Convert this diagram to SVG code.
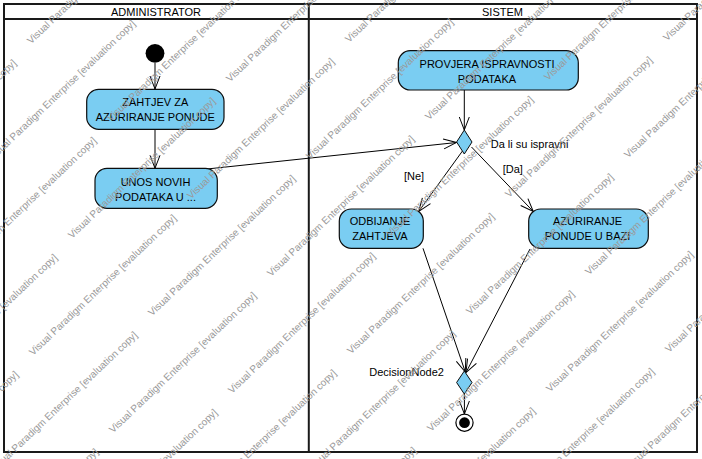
<svg xmlns="http://www.w3.org/2000/svg" width="702" height="459" viewBox="0 0 702 459">
<style>
text{font-family:"Liberation Sans",Arial,sans-serif;fill:#000}
.lane{fill:none;stroke:#1a1a1a;stroke-width:2}
.hdr{font-size:11px;text-anchor:middle}
.act{fill:#7acdf2;stroke:#0d0d0d;stroke-width:1.2}
.t{font-size:11px;text-anchor:middle}
.lab{font-size:11px}
.con{fill:none;stroke:#000;stroke-width:1;marker-end:url(#arr)}
.dec{fill:#7acdf2;stroke:#0d0d0d;stroke-width:1}
.wm text{font-size:10px;fill:#9a9a9a}
</style>
<defs>
<marker id="arr" markerWidth="16" markerHeight="12" refX="14" refY="6" orient="auto" markerUnits="userSpaceOnUse" viewBox="0 0 16 12">
<path d="M1,1 L14,6 L1,11" fill="none" stroke="#000" stroke-width="1"/>
</marker>
</defs>
<rect width="702" height="459" fill="#fff"/>
<g id="lanes">
<rect class="lane" x="4" y="4" width="693" height="448"/>
<line class="lane" x1="4" y1="19" x2="697" y2="19"/>
<line class="lane" x1="308.8" y1="4" x2="308.8" y2="452"/>
<text class="hdr" x="156" y="16">ADMINISTRATOR</text>
<text class="hdr" x="502.5" y="16">SISTEM</text>
</g>
<g id="connectors">
<line class="con" x1="155" y1="63" x2="155" y2="89"/>
<line class="con" x1="155" y1="129.3" x2="155" y2="168.3"/>
<line class="con" x1="207" y1="169" x2="456.5" y2="142.5"/>
<line class="con" x1="464.3" y1="90" x2="464.3" y2="130"/>
<line class="con" x1="462.7" y1="150.7" x2="418.8" y2="211.3"/>
<line class="con" x1="471.5" y1="147" x2="533.3" y2="211.5"/>
<line class="con" x1="423" y1="248.3" x2="465.3" y2="372"/>
<line class="con" x1="530" y1="249" x2="466" y2="372.5"/>
<line class="con" x1="464.4" y1="394" x2="464.4" y2="414"/>
<text class="lab" x="404" y="180">[Ne]</text>
<text class="lab" x="502.7" y="172.5">[Da]</text>
</g>
<g id="start"><circle cx="155" cy="53.3" r="9.4" fill="#000"/></g>
<g id="zahtjev">
<rect class="act" x="86.7" y="89.3" width="137.3" height="40" rx="12"/>
<text class="t" x="155.3" y="106">ZAHTJEV ZA</text>
<text class="t" x="155.3" y="121">AZURIRANJE PONUDE</text>
</g>
<g id="unos">
<rect class="act" x="95" y="168.3" width="122.3" height="40" rx="12"/>
<text class="t" x="155.5" y="186">UNOS NOVIH</text>
<text class="t" x="155.5" y="201">PODATAKA U ...</text>
</g>
<g id="provjera">
<rect class="act" x="398.3" y="50.7" width="180" height="39.3" rx="12"/>
<text class="t" x="487" y="67.5">PROVJERA ISPRAVNOSTI</text>
<text class="t" x="487" y="82.5">PODATAKA</text>
</g>
<g id="decision1">
<polygon class="dec" points="464.3,130 472,142 464.3,154 456.6,142"/>
<text class="lab" x="490.7" y="148">Da li su ispravni</text>
</g>
<g id="odbijanje">
<rect class="act" x="339.3" y="209" width="84" height="39.3" rx="12"/>
<text class="t" x="380" y="225">ODBIJANJE</text>
<text class="t" x="380" y="240">ZAHTJEVA</text>
</g>
<g id="azuriranje">
<rect class="act" x="528.7" y="209" width="119.6" height="39.3" rx="12"/>
<text class="t" x="587.5" y="225">AZURIRANJE</text>
<text class="t" x="587.5" y="240">PONUDE U BAZI</text>
</g>
<g id="decision2">
<polygon class="dec" points="464.3,371 472,382.5 464.3,394 456.6,382.5"/>
<text class="lab" x="369.3" y="375.7">DecisionNode2</text>
</g>
<g id="final">
<circle cx="464.5" cy="422.7" r="8.6" fill="#fff" stroke="#000" stroke-width="1.2"/>
<circle cx="464.5" cy="422.7" r="5.4" fill="#000"/>
</g>
<g class="wm" id="watermark">
<text transform="translate(-86 395.5) rotate(-43.6)">Visual Paradigm Enterprise [evaluation copy]</text>
<text transform="translate(33 356) rotate(-43.6)">Visual Paradigm Enterprise [evaluation copy]</text>
<text transform="translate(152 316.5) rotate(-43.6)">Visual Paradigm Enterprise [evaluation copy]</text>
<text transform="translate(271 277) rotate(-43.6)">Visual Paradigm Enterprise [evaluation copy]</text>
<text transform="translate(390 237.5) rotate(-43.6)">Visual Paradigm Enterprise [evaluation copy]</text>
<text transform="translate(509 198) rotate(-43.6)">Visual Paradigm Enterprise [evaluation copy]</text>
<text transform="translate(628 158.5) rotate(-43.6)">Visual Paradigm Enterprise [evaluation copy]</text>
<text transform="translate(-125 512.5) rotate(-43.6)">Visual Paradigm Enterprise [evaluation copy]</text>
<text transform="translate(-6 473) rotate(-43.6)">Visual Paradigm Enterprise [evaluation copy]</text>
<text transform="translate(113 433.5) rotate(-43.6)">Visual Paradigm Enterprise [evaluation copy]</text>
<text transform="translate(232 394) rotate(-43.6)">Visual Paradigm Enterprise [evaluation copy]</text>
<text transform="translate(351 354.5) rotate(-43.6)">Visual Paradigm Enterprise [evaluation copy]</text>
<text transform="translate(470 315) rotate(-43.6)">Visual Paradigm Enterprise [evaluation copy]</text>
<text transform="translate(589 275.5) rotate(-43.6)">Visual Paradigm Enterprise [evaluation copy]</text>
<text transform="translate(-45 590) rotate(-43.6)">Visual Paradigm Enterprise [evaluation copy]</text>
<text transform="translate(74 550.5) rotate(-43.6)">Visual Paradigm Enterprise [evaluation copy]</text>
<text transform="translate(193 511) rotate(-43.6)">Visual Paradigm Enterprise [evaluation copy]</text>
<text transform="translate(312 471.5) rotate(-43.6)">Visual Paradigm Enterprise [evaluation copy]</text>
<text transform="translate(431 432) rotate(-43.6)">Visual Paradigm Enterprise [evaluation copy]</text>
<text transform="translate(550 392.5) rotate(-43.6)">Visual Paradigm Enterprise [evaluation copy]</text>
<text transform="translate(669 353) rotate(-43.6)">Visual Paradigm Enterprise [evaluation copy]</text>
<text transform="translate(273 588.5) rotate(-43.6)">Visual Paradigm Enterprise [evaluation copy]</text>
<text transform="translate(392 549) rotate(-43.6)">Visual Paradigm Enterprise [evaluation copy]</text>
<text transform="translate(511 509.5) rotate(-43.6)">Visual Paradigm Enterprise [evaluation copy]</text>
<text transform="translate(630 470) rotate(-43.6)">Visual Paradigm Enterprise [evaluation copy]</text>
<text transform="translate(-47 278.5) rotate(-43.6)">Visual Paradigm Enterprise [evaluation copy]</text>
<text transform="translate(72 239) rotate(-43.6)">Visual Paradigm Enterprise [evaluation copy]</text>
<text transform="translate(191 199.5) rotate(-43.6)">Visual Paradigm Enterprise [evaluation copy]</text>
<text transform="translate(310 160) rotate(-43.6)">Visual Paradigm Enterprise [evaluation copy]</text>
<text transform="translate(429 120.5) rotate(-43.6)">Visual Paradigm Enterprise [evaluation copy]</text>
<text transform="translate(548 81) rotate(-43.6)">Visual Paradigm Enterprise [evaluation copy]</text>
<text transform="translate(667 41.5) rotate(-43.6)">Visual Paradigm Enterprise [evaluation copy]</text>
<text transform="translate(-127 201) rotate(-43.6)">Visual Paradigm Enterprise [evaluation copy]</text>
<text transform="translate(-8 161.5) rotate(-43.6)">Visual Paradigm Enterprise [evaluation copy]</text>
<text transform="translate(111 122) rotate(-43.6)">Visual Paradigm Enterprise [evaluation copy]</text>
<text transform="translate(230 82.5) rotate(-43.6)">Visual Paradigm Enterprise [evaluation copy]</text>
<text transform="translate(349 43) rotate(-43.6)">Visual Paradigm Enterprise [evaluation copy]</text>
<text transform="translate(31 44.5) rotate(-43.6)">Visual Paradigm Enterprise [evaluation copy]</text>
</g>
</svg>
